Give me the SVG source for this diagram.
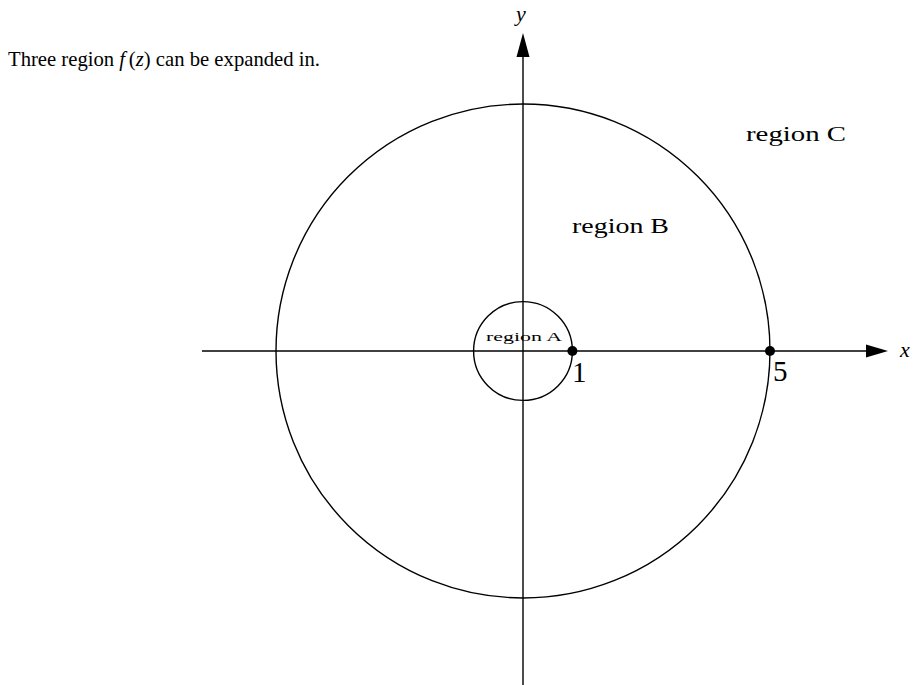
<svg xmlns="http://www.w3.org/2000/svg" width="916" height="685" viewBox="0 0 916 685">
<style>
.ln{stroke:#000;stroke-width:1.4;fill:none}
.t{font-family:"Liberation Serif","DejaVu Serif",serif;fill:#000}
.it{font-style:italic}
</style>
<rect width="916" height="685" fill="#fff"/>
<g id="connectors">
<line class="ln" x1="202" y1="351" x2="868" y2="351"/>
<polygon points="866,344.5 888,351 866,357.5" fill="#000"/>
<line class="ln" x1="523" y1="685" x2="523" y2="55"/>
<polygon points="516.5,57 523,33 529.5,57" fill="#000"/>
</g>
<g id="circle-A"><circle class="ln" cx="523" cy="351" r="49.4"/></g>
<g id="circle-B"><circle class="ln" cx="523" cy="351" r="247"/></g>
<g id="point-1"><circle cx="572.4" cy="351" r="5" fill="#000"/><text class="t" x="572" y="382" font-size="29">1</text></g>
<g id="point-5"><circle cx="770" cy="351" r="5" fill="#000"/><text class="t" x="773" y="381" font-size="29">5</text></g>
<g id="labels">
<text class="t it" x="900" y="357" font-size="22">x</text>
<text class="t it" x="516" y="21" font-size="22">y</text>
<text class="t" x="8" y="66" font-size="22" textLength="312" lengthAdjust="spacingAndGlyphs">Three region <tspan class="it">f</tspan><tspan dx="4">(</tspan><tspan class="it">z</tspan>) can be expanded in.</text>
<text class="t" x="486" y="341" font-size="13" textLength="76" lengthAdjust="spacingAndGlyphs">region A</text>
<text class="t" x="572" y="233" font-size="21" textLength="97" lengthAdjust="spacingAndGlyphs">region B</text>
<text class="t" x="746" y="141" font-size="21" textLength="100" lengthAdjust="spacingAndGlyphs">region C</text>
</g>
</svg>
